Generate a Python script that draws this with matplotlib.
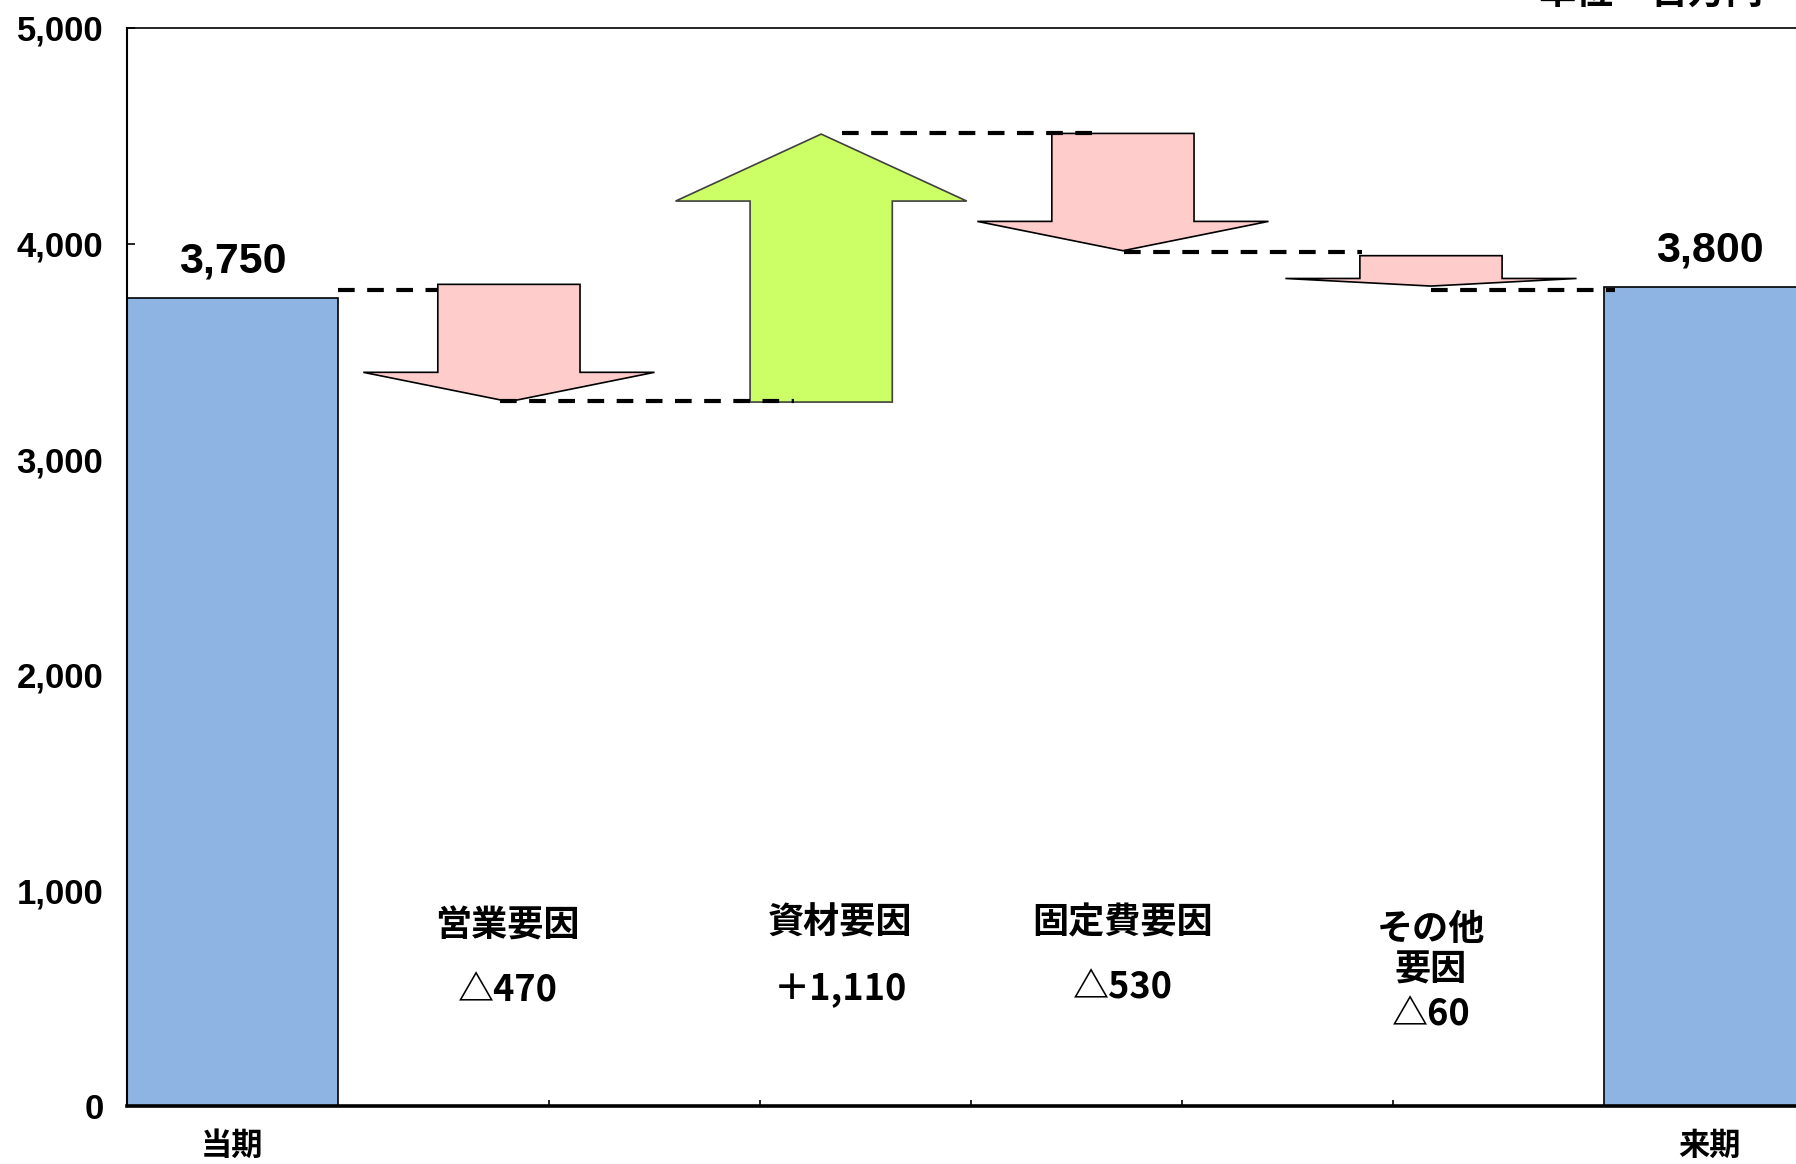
import matplotlib
matplotlib.use("Agg")
import matplotlib.pyplot as plt
from matplotlib.patches import Polygon
from matplotlib.ticker import FuncFormatter

plt.rcParams['font.family'] = ['Noto Sans CJK JP', 'DejaVu Sans']

# ---------------- data ----------------
end_labels = ['当期', '来期']
end_values = [3750, 3800]
end_value_texts = ['3,750', '3,800']

factor_names = ['営業要因', '資材要因', '固定費要因', 'その他\n要因']
factor_texts = ['△470', '＋1,110', '△530', '△60']
# arrow levels as drawn in the picture (start -> end)
arrow_from = [3811, 3265, 4511, 3944]
arrow_to = [3267, 4508, 3967, 3803]
# dashed connector levels as drawn
connector_levels = [3785, 3271, 4513, 3963, 3783]

y_ticks = [0, 1000, 2000, 3000, 4000, 5000]
unit_label = '単位・百万円'

# ---------------- layout ----------------
end_x = [0, 7]
arrow_x = [1.31, 2.79, 4.22, 5.68]
arrow_colors = ['#FFCCCC', '#CCFF66', '#FFCCCC', '#FFCCCC']
arrow_edge = ['black', '#404040', 'black', 'black']
body_hw = 0.337
head_hw = 0.69
head_frac = 0.25
connector_x = [(0.5, 0.97), (1.27, 2.66), (2.89, 4.10), (4.225, 5.355), (5.68, 6.55)]
name_x = [1.305, 2.88, 4.22, 5.68]
name_y = [837, 848, 848, 725]
num_y = [534, 545, 545, 423]

fig = plt.figure(figsize=(17.96, 11.64), dpi=100)
ax = fig.add_axes([127 / 1796, 1 - 1106 / 1164, (1815 - 127) / 1796, (1106 - 28) / 1164])
ax.set_xlim(-0.5, 7.5)
ax.set_ylim(0, 5000)

# end bars
ax.bar(end_x, end_values, width=1.0, color='#8EB4E3', edgecolor='black', linewidth=1.2, zorder=2)
for x, v, t in zip(end_x, end_values, end_value_texts):
    ax.text(x, v + 116, t, ha='center', va='baseline', fontsize=31,
            fontweight='bold', family=['Liberation Sans', 'DejaVu Sans'], zorder=5)

# arrows
for cx, s, e, fc, ec in zip(arrow_x, arrow_from, arrow_to, arrow_colors, arrow_edge):
    d = e - s
    hb = e - head_frac * d
    pts = [(cx - body_hw, s), (cx + body_hw, s), (cx + body_hw, hb), (cx + head_hw, hb),
           (cx, e), (cx - head_hw, hb), (cx - body_hw, hb)]
    ax.add_patch(Polygon(pts, closed=True, facecolor=fc, edgecolor=ec, linewidth=1.2, zorder=3))

# connectors
for (x0, x1), lv in zip(connector_x, connector_levels):
    ax.plot([x0, x1], [lv, lv], color='black', linewidth=3.0, linestyle=(0, (4, 3)),
            solid_capstyle='butt', dash_capstyle='butt', zorder=4)

# factor labels
for x, ny, yy, n, t in zip(name_x, name_y, num_y, factor_names, factor_texts):
    ax.text(x, ny, n, ha='center', va='center', fontsize=26, fontweight='bold',
            linespacing=1.15, zorder=5)
    ax.text(x, yy, t, ha='center', va='center', fontsize=26, fontweight='bold', zorder=5)

# axes styling
ax.set_yticks(y_ticks)
ax.yaxis.set_major_formatter(FuncFormatter(lambda v, p: f'{int(v):,}'))
ax.tick_params(axis='y', direction='in', length=6, width=1.2, pad=17, labelsize=25)
for lab in ax.get_yticklabels():
    lab.set_fontweight('bold')
    lab.set_family(['Liberation Sans', 'DejaVu Sans'])

ax.set_xticks(end_x)
ax.set_xticklabels(end_labels, fontsize=22.5, fontweight='bold')
ax.set_xticks([1.5, 2.5, 3.5, 4.5, 5.5], minor=True)
ax.tick_params(axis='x', which='major', length=0, pad=17)
ax.tick_params(axis='x', which='minor', direction='in', length=4, width=1.2)

ax.spines['bottom'].set_linewidth(2.6)
ax.spines['left'].set_linewidth(1.5)
ax.spines['top'].set_linewidth(1.2)
ax.spines['right'].set_visible(False)

fig.text(1651 / 1796, 1 - 13 / 1164, unit_label, ha='center', va='bottom',
         fontsize=27, fontweight='bold')

fig.savefig('out.png', dpi=100)
